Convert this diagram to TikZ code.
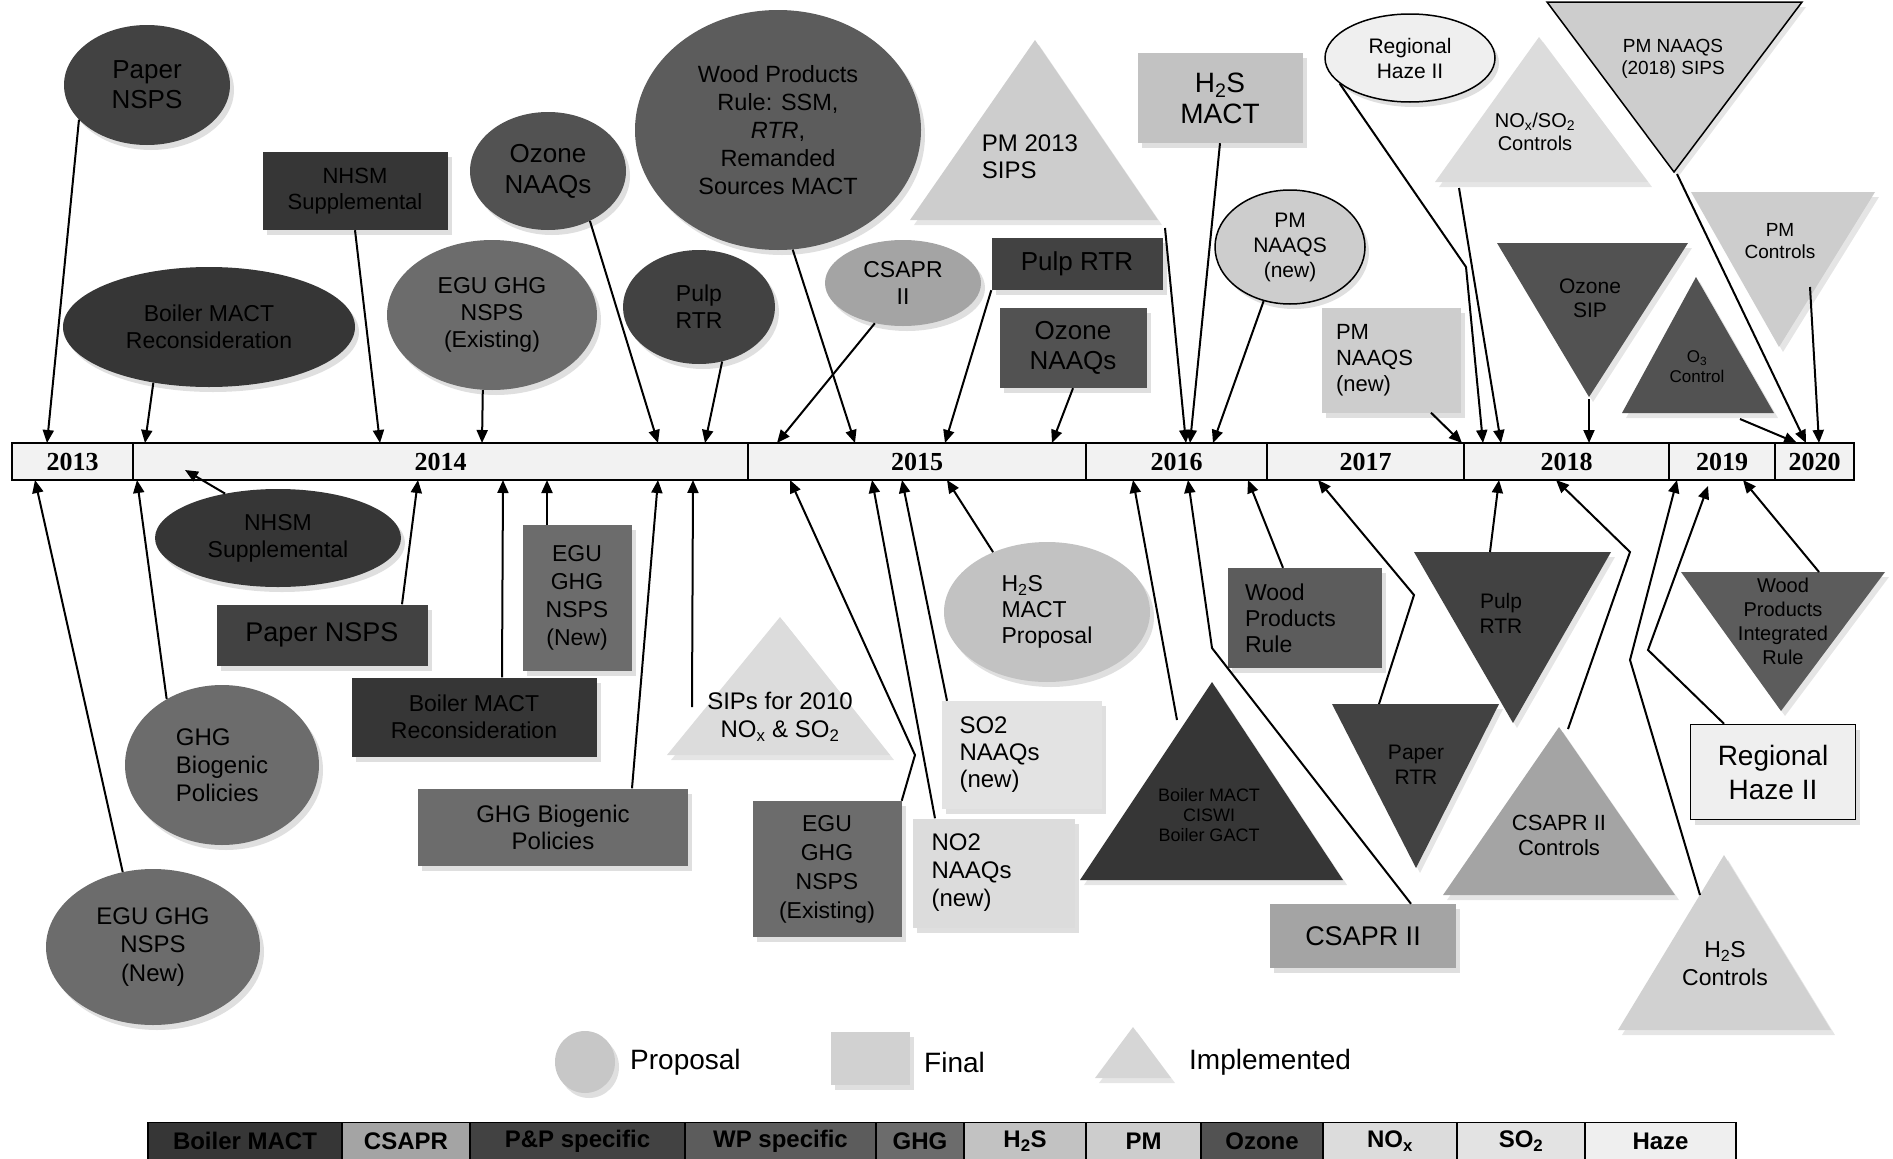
\documentclass[tikz,border=0pt]{standalone}
\usepackage{fontspec}
\setmainfont{Liberation Sans}
\newfontfamily\yearfont{Liberation Serif}
\usetikzlibrary{positioning,arrows.meta,shapes.geometric,shadows,calc}

\definecolor{BoilerGray}{HTML}{363636}
\definecolor{CsaprGray}{HTML}{A4A4A4}
\definecolor{PaperGray}{HTML}{424242}
\definecolor{WoodGray}{HTML}{5C5C5C}
\definecolor{GhgGray}{HTML}{6C6C6C}
\definecolor{HydroGray}{HTML}{C2C2C2}
\definecolor{PmGray}{HTML}{CDCDCD}
\definecolor{OzoneGray}{HTML}{525252}
\definecolor{NoxGray}{HTML}{DCDCDC}
\definecolor{SoxGray}{HTML}{E3E3E3}
\definecolor{HazeGray}{HTML}{EFEFEF}
\definecolor{BarFill}{HTML}{F2F2F2}

\tikzset{
    evt/.style={align=center, inner sep=0pt, text=black, font=\fontsize{23}{27}\selectfont},
    proposal/.style={evt, ellipse, drop shadow={shadow xshift=4pt, shadow yshift=-5pt, fill=black!25}},
    final/.style={evt, rectangle, drop shadow={shadow xshift=4pt, shadow yshift=-5pt, fill=black!25}},
    implem/.style={drop shadow={shadow xshift=4pt, shadow yshift=-5pt, fill=black!20}},
    tritext/.style={evt, font=\fontsize{20}{23}\selectfont},
    yearbox/.style={draw=black, line width=1.5pt, fill=BarFill, minimum height=37, inner sep=0pt, font=\yearfont\bfseries\fontsize{26}{28}\selectfont},
    keybox/.style={draw=black, line width=1.2pt, minimum height=37, inner sep=0pt, font=\bfseries\fontsize{24}{26}\selectfont},
    keytext/.style={evt, anchor=west, font=\fontsize{28}{30}\selectfont},
    link/.style={-{Triangle[length=13pt,width=11pt]}, line width=2pt, draw=black}
}

\begin{document}
\begin{tikzpicture}[x=1pt, y=-1pt]
    \useasboundingbox (0,0) rectangle (1893,1159);

    % timeline bar
    \foreach \yr/\xa/\xb in {2013/12/133, 2014/133/748, 2015/748/1086, 2016/1086/1267, 2017/1267/1464, 2018/1464/1669, 2019/1669/1775, 2020/1775/1854}{
        \pgfmathsetmacro\cellW{\xb-\xa}
        \pgfmathsetmacro\cellX{(\xa+\xb)/2}
        \node[yearbox, minimum width=\cellW] (y\yr) at (\cellX,461.5) {\yr};
    }

    % arrow ends on the bar, upper side
    \coordinate (tPaperE) at (47,443);
    \coordinate (tBoilerE) at (145,443);
    \coordinate (tNhsmR) at (380,443);
    \coordinate (tEgugE) at (482,443);
    \coordinate (tOzoneE) at (658,443);
    \coordinate (tPulpE) at (705,443);
    \coordinate (tCsaprE) at (777,443);
    \coordinate (tWoodE) at (855,443);
    \coordinate (tPulpR) at (945,443);
    \coordinate (tOzoneR) at (1052,443);
    \coordinate (tPmSips) at (1186,443);
    \coordinate (tH2sMact) at (1190,443);
    \coordinate (tPmNaaqsE) at (1213,443);
    \coordinate (tPmNaaqsR) at (1462,443);
    \coordinate (tHazeE) at (1483,443);
    \coordinate (tNox) at (1501,443);
    \coordinate (tOzoneSip) at (1589,443);
    \coordinate (tO3Ctrl) at (1797,443);
    \coordinate (tPm18) at (1806,443);
    \coordinate (tPmCtrl) at (1819,443);
    % arrow ends on the bar, lower side
    \coordinate (bEgugNewE) at (35,480);
    \coordinate (bGhgBioE) at (137,480);
    \coordinate (bNhsmE) at (185,470);
    \coordinate (bPaperR) at (418,480);
    \coordinate (bBoilerR) at (503,480);
    \coordinate (bEgugNewR) at (547,480);
    \coordinate (bGhgBioR) at (658,480);
    \coordinate (bSips) at (693,480);
    \coordinate (bEgugExistR) at (790,480);
    \coordinate (bNo2) at (872,480);
    \coordinate (bSo2) at (902,480);
    \coordinate (bH2sProp) at (947,480);
    \coordinate (bBoilerT) at (1133,480);
    \coordinate (bCsaprR) at (1188,480);
    \coordinate (bWoodR) at (1248,480);
    \coordinate (bPaperRtr) at (1318,480);
    \coordinate (bPulpRtr) at (1499,480);
    \coordinate (bCsaprCtrl) at (1556,480);
    \coordinate (bH2sCtrl) at (1677,480);
    \coordinate (bHazeR) at (1708,486);
    \coordinate (bWoodInt) at (1743,480);

    % upper events
    \node[proposal, fill=PaperGray, minimum width=166, minimum height=120, font=\fontsize{26}{30}\selectfont] (paperE) at (147,85) {Paper\\NSPS};
    \node[final, fill=BoilerGray, minimum width=185, minimum height=78, font=\fontsize{22}{26}\selectfont] (nhsmR) at (355,191) {NHSM\\Supplemental};
    \node[proposal, fill=BoilerGray, minimum width=292, minimum height=120] (boilerE) at (209,327) {Boiler MACT\\Reconsideration};
    \node[proposal, fill=GhgGray, minimum width=210, minimum height=150] (egugExistE) at (492,315) {EGU GHG\\NSPS\\(Existing)};
    \node[proposal, fill=OzoneGray, minimum width=156, minimum height=118, font=\fontsize{26}{31}\selectfont] (ozoneE) at (548,171) {Ozone\\NAAQs};
    \node[proposal, fill=WoodGray, minimum width=286, minimum height=240, font=\fontsize{23.5}{28}\selectfont] (woodE) at (778,130) {Wood Products\\Rule: SSM,\\\textit{RTR},\\Remanded\\Sources MACT};
    \node[proposal, fill=PaperGray, minimum width=152, minimum height=114] (pulpE) at (699,307) {Pulp\\RTR};
    \node[proposal, fill=CsaprGray, minimum width=156, minimum height=86] (csaprE) at (903,283) {CSAPR\\II};

    \fill[PmGray, implem] (1035,40) -- (1158,220) -- (910,220) -- cycle;
    \node[evt, align=left, font=\fontsize{24}{27}\selectfont] (pmSips) at (1030,157) {PM 2013\\SIPS};
    \coordinate (pmSipsFoot) at (1165,228);

    \node[final, fill=HydroGray, minimum width=165, minimum height=90, font=\fontsize{28}{31}\selectfont] (h2sMactR) at (1220,98) {H\textsubscript{2}S\\MACT};
    \node[final, fill=PaperGray, minimum width=171, minimum height=52, font=\fontsize{26}{30}\selectfont] (pulpR) at (1077,264) {Pulp RTR};
    \node[final, fill=OzoneGray, minimum width=147, minimum height=80, font=\fontsize{26}{30}\selectfont] (ozoneR) at (1073,348) {Ozone\\NAAQs};
    \node[proposal, fill=PmGray, draw=black, line width=1.5pt, minimum width=150, minimum height=114, font=\fontsize{21}{25}\selectfont] (pmNaaqsE) at (1290,247) {PM\\NAAQS\\(new)};
    \node[final, fill=PmGray, minimum width=139, minimum height=105, text width=110, align=left, font=\fontsize{22}{26}\selectfont] (pmNaaqsR) at (1391,360) {PM\\NAAQS\\(new)};
    \node[proposal, fill=HazeGray, draw=black, line width=1.5pt, minimum width=170, minimum height=88, font=\fontsize{21}{25}\selectfont] (hazeE) at (1410,58) {Regional\\Haze II};

    \fill[NoxGray, implem] (1539,37) -- (1648,182) -- (1435,182) -- cycle;
    \node[tritext] (noxCtrl) at (1535,132) {NO\textsubscript{x}/SO\textsubscript{2}\\Controls};
    \coordinate (noxFoot) at (1459,188);

    \filldraw[fill=PmGray, draw=black, line width=1.5pt, implem] (1547,2) -- (1802,2) -- (1674,172) -- cycle;
    \node[tritext, font=\fontsize{19}{22}\selectfont] (pm18Sips) at (1673,59) {PM NAAQS\\(2018) SIPS};
    \coordinate (pm18Tip) at (1677,174);

    \fill[OzoneGray, implem] (1497,243) -- (1688,243) -- (1589,397) -- cycle;
    \node[tritext, font=\fontsize{21}{24}\selectfont] (ozoneSip) at (1590,298) {Ozone\\SIP};
    \coordinate (ozoneSipTip) at (1589,399);

    \fill[OzoneGray, implem] (1696,277) -- (1774,413) -- (1622,413) -- cycle;
    \node[tritext, font=\fontsize{17}{20}\selectfont] (o3Ctrl) at (1697,367) {O\textsubscript{3}\\Control};
    \coordinate (o3Foot) at (1740,419);

    \fill[PmGray, implem] (1691,192) -- (1875,192) -- (1779,347) -- cycle;
    \node[tritext, font=\fontsize{19}{22}\selectfont] (pmCtrl) at (1780,241) {PM\\Controls};
    \coordinate (pmCtrlFoot) at (1810,287);

    % lower events
    \node[proposal, fill=BoilerGray, minimum width=246, minimum height=98] (nhsmE) at (278,538) {NHSM\\Supplemental};
    \node[final, fill=PaperGray, minimum width=211, minimum height=61, font=\fontsize{27}{30}\selectfont] (paperR) at (322,635) {Paper NSPS};
    \node[final, fill=BoilerGray, minimum width=245, minimum height=79] (boilerR) at (474,717) {Boiler MACT\\Reconsideration};
    \node[final, fill=GhgGray, minimum width=109, minimum height=146, font=\fontsize{23}{28}\selectfont] (egugNewR) at (577,598) {EGU\\GHG\\NSPS\\(New)};
    \node[proposal, fill=GhgGray, minimum width=194, minimum height=160, align=left, font=\fontsize{24}{28}\selectfont] (ghgBioE) at (222,765) {GHG\\Biogenic\\Policies};
    \node[proposal, fill=GhgGray, minimum width=214, minimum height=156, font=\fontsize{24}{28.5}\selectfont] (egugNewE) at (153,947) {EGU GHG\\NSPS\\(New)};
    \node[final, fill=GhgGray, minimum width=270, minimum height=77, font=\fontsize{24}{27}\selectfont] (ghgBioR) at (553,827) {GHG Biogenic\\Policies};

    \fill[NoxGray, implem] (780,617) -- (890,755) -- (667,755) -- cycle;
    \node[evt, font=\fontsize{24}{28}\selectfont] (sips2010) at (780,717) {SIPs for 2010\\NO\textsubscript{x} \& SO\textsubscript{2}};
    \coordinate (sipsSide) at (692,707);

    \node[final, fill=GhgGray, minimum width=149, minimum height=136, font=\fontsize{23}{29}\selectfont] (egugExistR) at (827,869) {EGU\\GHG\\NSPS\\(Existing)};
    \node[proposal, fill=HydroGray, minimum width=206, minimum height=140, align=left, font=\fontsize{23}{26}\selectfont] (h2sPropE) at (1047,612) {H\textsubscript{2}S\\MACT\\Proposal};
    \node[final, fill=SoxGray, minimum width=160, minimum height=108, text width=125, align=left, font=\fontsize{24}{27}\selectfont] (so2R) at (1022,755) {SO2\\NAAQs\\(new)};
    \node[final, fill=NoxGray, minimum width=162, minimum height=109, text width=125, align=left, font=\fontsize{24}{28}\selectfont] (no2R) at (994,873) {NO2\\NAAQs\\(new)};

    \fill[BoilerGray, implem] (1212,682) -- (1343,880) -- (1080,880) -- cycle;
    \node[evt, font=\fontsize{18}{20}\selectfont] (boilerCiswi) at (1209,815) {Boiler MACT\\CISWI\\Boiler GACT};
    \coordinate (boilerSide) at (1177,720);

    \node[final, fill=CsaprGray, minimum width=186, minimum height=64, font=\fontsize{27}{30}\selectfont] (csaprR) at (1363,936) {CSAPR II};
    \node[final, fill=WoodGray, minimum width=154, minimum height=100, text width=120, align=left, font=\fontsize{23}{26}\selectfont] (woodR) at (1305,618) {Wood\\Products\\Rule};

    \fill[PaperGray, implem] (1332,704) -- (1499,704) -- (1416,868) -- cycle;
    \node[tritext, font=\fontsize{21}{25}\selectfont] (paperRtr) at (1416,765) {Paper\\RTR};
    \coordinate (paperRtrTop) at (1379,704);

    \fill[PaperGray, implem] (1414,552) -- (1611,552) -- (1513,723) -- cycle;
    \node[tritext, font=\fontsize{21}{25}\selectfont] (pulpRtr) at (1501,613) {Pulp\\RTR};
    \coordinate (pulpRtrTop) at (1490,552);

    \fill[CsaprGray, implem] (1559,727) -- (1675,895) -- (1443,895) -- cycle;
    \node[tritext, font=\fontsize{22}{25}\selectfont] (csaprCtrl) at (1559,835) {CSAPR II\\Controls};
    \coordinate (csaprCtrlTop) at (1568,729);

    \fill[WoodGray, implem] (1681,572) -- (1885,572) -- (1781,711) -- cycle;
    \node[tritext, font=\fontsize{20}{24}\selectfont] (woodInt) at (1783,621) {Wood\\Products\\Integrated\\Rule};
    \coordinate (woodIntTop) at (1819,572);

    \node[final, fill=HazeGray, draw=black, line width=1.5pt, minimum width=165, minimum height=95, font=\fontsize{28}{34}\selectfont] (hazeR) at (1773,772) {Regional\\Haze II};

    \fill[HydroGray!75, implem] (1724,855) -- (1831,1030) -- (1618,1030) -- cycle;
    \node[evt, font=\fontsize{23}{28}\selectfont] (h2sCtrl) at (1725,964) {H\textsubscript{2}S\\Controls};
    \coordinate (h2sCtrlSide) at (1700,895);

    % connectors above the bar
    \draw[link] (paperE.207) -- (tPaperE);
    \draw[link] (boilerE.225) -- (tBoilerE);
    \draw[link] (nhsmR.south) -- (tNhsmR);
    \draw[link] (egugExistE.263) -- (tEgugE);
    \draw[link] (ozoneE.310) -- (tOzoneE);
    \draw[link] (pulpE.293) -- (tPulpE);
    \draw[link] (woodE.277) -- (tWoodE);
    \draw[link] (csaprE.235) -- (tCsaprE);
    \draw[link] (pulpR.south west) -- (tPulpR);
    \draw[link] (ozoneR.south) -- (tOzoneR);
    \draw[link] (pmSipsFoot) -- (tPmSips);
    \draw[link] (h2sMactR.south) -- (tH2sMact);
    \draw[link] (pmNaaqsE.244) -- (tPmNaaqsE);
    \draw[link] ([xshift=40pt]pmNaaqsR.south) -- (tPmNaaqsR);
    \draw[link] (hazeE.200) -- (1466,267) -- (tHazeE);
    \draw[link] (noxFoot) -- (tNox);
    \draw[link] (pm18Tip) -- (tPm18);
    \draw[link] (ozoneSipTip) -- (tOzoneSip);
    \draw[link] (o3Foot) -- (tO3Ctrl);
    \draw[link] (pmCtrlFoot) -- (tPmCtrl);

    % connectors below the bar
    \draw[link] (egugNewE.112) -- (bEgugNewE);
    \draw[link] (ghgBioE.130) -- (bGhgBioE);
    \draw[link] (nhsmE.140) -- (bNhsmE);
    \draw[link] ([xshift=80pt]paperR.north) -- (bPaperR);
    \draw[link] ([xshift=28pt]boilerR.north) -- (bBoilerR);
    \draw[link] ([xshift=-30pt]egugNewR.north) -- (bEgugNewR);
    \draw[link] ([xshift=79pt]ghgBioR.north) -- (bGhgBioR);
    \draw[link] (sipsSide) -- (bSips);
    \draw[link] (egugExistR.north east) -- (915,755) -- (bEgugExistR);
    \draw[link] ([xshift=-59pt]no2R.north) -- (bNo2);
    \draw[link] ([xshift=-75pt]so2R.north) -- (bSo2);
    \draw[link] (h2sPropE.132) -- (bH2sProp);
    \draw[link] (boilerSide) -- (bBoilerT);
    \draw[link] ([xshift=48pt]csaprR.north) -- (1212,648) -- (bCsaprR);
    \draw[link] ([xshift=-22pt]woodR.north) -- (bWoodR);
    \draw[link] (paperRtrTop) -- (1414,595) -- (bPaperRtr);
    \draw[link] (pulpRtrTop) -- (bPulpRtr);
    \draw[link] (csaprCtrlTop) -- (1630,552) -- (bCsaprCtrl);
    \draw[link] (woodIntTop) -- (bWoodInt);
    \draw[link] ([xshift=-49pt]hazeR.north) -- (1648,650) -- (bHazeR);
    \draw[link] (h2sCtrlSide) -- (1630,660) -- (bH2sCtrl);

    % shape key
    \node[proposal, fill=black!22, minimum width=60, minimum height=62] (keyProp) at (585,1062) {};
    \node[keytext] (keyPropTxt) at (630,1062) {Proposal};
    \node[final, fill=black!18, minimum width=79, minimum height=53] (keyFinal) at (870,1058) {};
    \node[keytext] (keyFinalTxt) at (924,1062) {Final};
    \fill[black!16, implem] (1133,1027) -- (1171,1078) -- (1095,1078) -- cycle;
    \node[keytext] (keyImplTxt) at (1189,1062) {Implemented};

    % colour key
    \foreach \lbl/\xa/\xb/\clr [count=\k] in {Boiler MACT/148/342/BoilerGray, CSAPR/342/470/CsaprGray, P\&P specific/470/685/PaperGray, WP specific/685/876/WoodGray, GHG/876/964/GhgGray, H\textsubscript{2}S/964/1086/HydroGray, PM/1086/1201/PmGray, Ozone/1201/1323/OzoneGray, NO\textsubscript{x}/1323/1457/NoxGray, SO\textsubscript{2}/1457/1585/SoxGray, Haze/1585/1736/HazeGray}{
        \pgfmathsetmacro\cellW{\xb-\xa}
        \pgfmathsetmacro\cellX{(\xa+\xb)/2}
        \node[keybox, fill=\clr, minimum width=\cellW] (key\k) at (\cellX,1141) {\lbl};
    }
\end{tikzpicture}
\end{document}
